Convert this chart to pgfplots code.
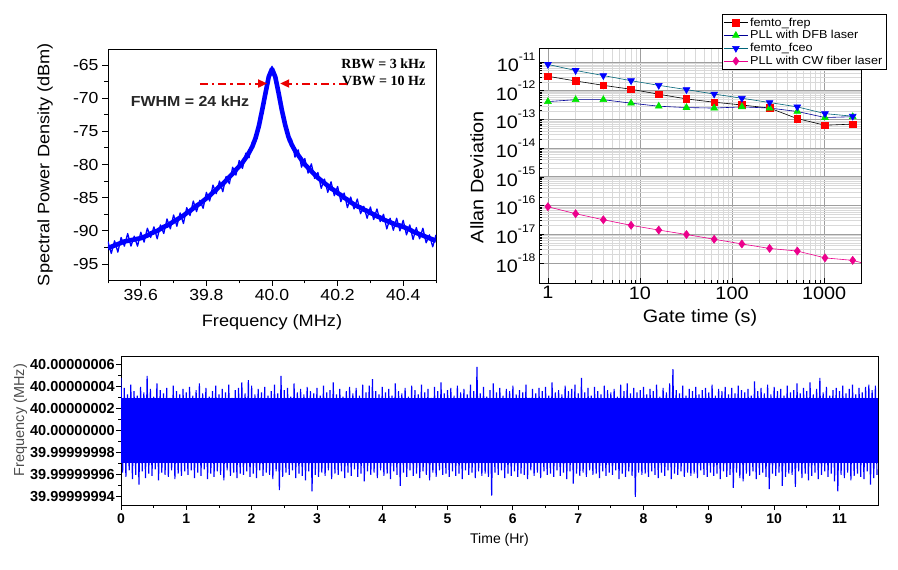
\documentclass[border=0pt]{standalone}
\usepackage{pgfplots}
\usepackage{pgfplotstable}
\pgfplotsset{compat=1.18}
\usepackage{fontspec}
\setmainfont{Liberation Sans}
\newfontfamily\widesans{Liberation Sans}[FakeStretch=1.1]
\newfontfamily\serifw{Liberation Serif}
\usetikzlibrary{arrows.meta}
\definecolor{dfbline}{RGB}{0,0,150}
\definecolor{fceoline}{RGB}{0,100,120}
\definecolor{pblue}{RGB}{0,0,255}
\definecolor{pgreen}{RGB}{0,230,0}
\definecolor{pred}{RGB}{235,0,0}

\pgfplotstableread{
x y yn
39.50 -92.6 -91.6
39.51 -92.4 -93.4
39.52 -92.2 -91.5
39.53 -92.0 -93.2
39.54 -91.8 -91.0
39.55 -91.6 -92.3
39.56 -91.5 -90.4
39.57 -91.4 -92.3
39.58 -91.3 -90.8
39.59 -91.2 -92.3
39.60 -91.1 -90.2
39.61 -90.9 -91.7
39.62 -90.7 -89.6
39.63 -90.4 -91.0
39.64 -90.2 -89.4
39.65 -90.0 -91.2
39.66 -89.7 -89.1
39.67 -89.4 -90.4
39.68 -89.2 -88.2
39.69 -88.9 -89.7
39.70 -88.6 -87.6
39.71 -88.3 -89.3
39.72 -88.0 -87.3
39.73 -87.7 -88.9
39.74 -87.3 -86.5
39.75 -87.0 -87.7
39.76 -86.6 -85.5
39.77 -86.2 -87.1
39.78 -85.9 -85.4
39.79 -85.5 -86.6
39.80 -85.1 -84.2
39.81 -84.7 -85.5
39.82 -84.2 -83.1
39.83 -83.8 -84.4
39.84 -83.3 -82.5
39.85 -82.9 -84.1
39.86 -82.4 -81.8
39.87 -81.9 -82.9
39.88 -81.4 -80.4
39.89 -80.8 -81.6
39.90 -80.3 -79.4
39.91 -79.7 -80.6
39.92 -79.0 -78.3
39.93 -78.2 -79.0
39.94 -77.3 -76.6
39.95 -76.0 -76.6
39.96 -74.2 -73.6
39.97 -71.8 -72.4
39.98 -69.3 -68.8
39.99 -66.8 -67.3
40.00 -65.6 -65.2
40.01 -66.8 -67.3
40.02 -69.2 -68.7
40.03 -71.8 -72.4
40.04 -74.0 -73.4
40.05 -75.8 -76.5
40.06 -77.0 -76.3
40.07 -77.9 -78.9
40.08 -78.6 -77.8
40.09 -79.3 -80.4
40.10 -80.0 -79.1
40.11 -80.5 -81.3
40.12 -81.0 -79.9
40.13 -81.5 -82.1
40.14 -82.0 -81.2
40.15 -82.4 -83.6
40.16 -82.8 -82.2
40.17 -83.2 -84.2
40.18 -83.6 -82.6
40.19 -83.9 -84.7
40.20 -84.3 -83.3
40.21 -84.6 -85.6
40.22 -85.0 -84.3
40.23 -85.3 -86.5
40.24 -85.7 -84.9
40.25 -86.0 -86.7
40.26 -86.3 -85.2
40.27 -86.5 -87.4
40.28 -86.8 -86.3
40.29 -87.0 -88.1
40.30 -87.3 -86.4
40.31 -87.5 -88.3
40.32 -87.8 -86.7
40.33 -88.0 -88.6
40.34 -88.3 -87.5
40.35 -88.5 -89.7
40.36 -88.7 -88.1
40.37 -88.9 -89.9
40.38 -89.1 -88.1
40.39 -89.2 -90.0
40.40 -89.4 -88.4
40.41 -89.6 -90.6
40.42 -89.8 -89.1
40.43 -90.1 -91.3
40.44 -90.3 -89.5
40.45 -90.5 -91.2
40.46 -90.7 -89.6
40.47 -90.9 -91.8
40.48 -91.1 -90.6
40.49 -91.3 -92.4
40.50 -91.5 -90.6
}\spec

\begin{document}
\begin{tikzpicture}
\useasboundingbox (0pt,0pt) rectangle (898pt,570pt);

% ---------------- Panel 1: spectrum ----------------
\begin{axis}[
 at={(108pt,290pt)}, anchor=south west, scale only axis, width=328pt, height=231pt,
 xmin=39.5, xmax=40.5, ymin=-97.4, ymax=-62.6,
 xtick={39.6,39.8,40.0,40.2,40.4}, xticklabels={39.6,39.8,40.0,40.2,40.4},
 minor xtick={39.5,39.7,39.9,40.1,40.3,40.5},
 ytick={-95,-90,-85,-80,-75,-70,-65}, yticklabels={-95,-90,-85,-80,-75,-70,-65},
 minor ytick={-92.5,-87.5,-82.5,-77.5,-72.5,-67.5},
 tick pos=left, tick align=outside, major tick length=6pt, minor tick length=3.5pt,
 tick style={black, line width=0.8pt},
 axis line style={line width=0.9pt},
 ticklabel style={font=\widesans\fontsize{16}{16}\selectfont},
 xlabel={Frequency (MHz)}, ylabel={Spectral Power Density (dBm)},
 label style={font=\widesans\fontsize{16.5}{18}\selectfont},
 xlabel style={at={(axis description cs:0.5,-0.182)}, anchor=center},
 ylabel style={at={(axis description cs:-0.192,0.5)}, anchor=center},
]
\addplot[pblue, line width=4.6pt, line join=round] table[x=x,y=y] {\spec};
\addplot[pblue, line width=1.3pt, line join=round] table[x=x,y=yn] {\spec};
\node[font=\serifw\bfseries\fontsize{14}{14}\selectfont, anchor=east] at (axis cs:40.478,-64.85) {RBW = 3 kHz};
\node[font=\serifw\bfseries\fontsize{14}{14}\selectfont, anchor=east] at (axis cs:40.478,-67.4) {VBW = 10 Hz};
\node[font=\widesans\bfseries\fontsize{14.5}{15}\selectfont, text=black!85] at (axis cs:39.75,-70.4) {FWHM = 24 kHz};
\draw[draw=pred, line width=2pt, dash pattern=on 8pt off 4pt on 2.5pt off 4pt, -{Triangle[length=9pt,width=8pt,fill=pred]}] (axis cs:39.78,-67.8) -- (axis cs:39.985,-67.8);
\draw[draw=pred, line width=2pt, dash pattern=on 8pt off 4pt on 2.5pt off 4pt, -{Triangle[length=9pt,width=8pt,fill=pred]}] (axis cs:40.23,-67.8) -- (axis cs:40.025,-67.8);
\end{axis}

% ---------------- Panel 2: Allan deviation ----------------
\begin{axis}[
 at={(539pt,287pt)}, anchor=south west, scale only axis, width=322pt, height=235pt,
 xmode=log, ymode=log, xmin=0.8, xmax=2520, ymin=2e-19, ymax=3.1e-11,
 xtick={1,10,100,1000}, xticklabels={1,10,100,1000},
 ytick={1e-18,1e-17,1e-16,1e-15,1e-14,1e-13,1e-12,1e-11},
 yticklabels={10\raisebox{0.62em}{\fontsize{11}{11}\selectfont -18},
              10\raisebox{0.62em}{\fontsize{11}{11}\selectfont -17},
              10\raisebox{0.62em}{\fontsize{11}{11}\selectfont -16},
              10\raisebox{0.62em}{\fontsize{11}{11}\selectfont -15},
              10\raisebox{0.62em}{\fontsize{11}{11}\selectfont -14},
              10\raisebox{0.62em}{\fontsize{11}{11}\selectfont -13},
              10\raisebox{0.62em}{\fontsize{11}{11}\selectfont -12},
              10\raisebox{0.62em}{\fontsize{11}{11}\selectfont -11}},
 grid=both, major grid style={gray!75, line width=0.8pt}, minor grid style={gray!30, line width=0.5pt},
 tick pos=left, tick align=inside, major tick length=5pt, minor tick length=3pt,
 tick style={black, line width=0.7pt},
 axis line style={line width=0.9pt},
 ticklabel style={font=\widesans\fontsize{18}{18}\selectfont},
 xlabel={Gate time (s)}, ylabel={Allan Deviation},
 label style={font=\widesans\fontsize{18}{20}\selectfont},
 xlabel style={at={(axis description cs:0.5,-0.149)}, anchor=center},
 ylabel style={at={(axis description cs:-0.193,0.451)}, anchor=center},
 legend style={at={(axis description cs:1.0776,1.1447)}, anchor=north east, draw=black, fill=white,
   font=\widesans\fontsize{11.5}{13}\selectfont, inner sep=1.5pt, row sep=-1pt},
 legend cell align=left,
 legend image code/.code={\draw[mark repeat=2,mark phase=2,#1] plot coordinates {(0cm,0cm)(0.42cm,0cm)(0.84cm,0cm)};},
]
\addplot[black, line width=0.6pt, mark=square*, mark size=3.3pt, mark options={solid, fill=red, draw=red}] coordinates {
 (1,3.2e-12)(2,2.2e-12)(4,1.55e-12)(8,1.13e-12)(16,7.6e-13)(32,5.2e-13)(64,4.0e-13)(128,3.2e-13)(256,2.5e-13)(512,1.07e-13)(1024,6.3e-14)(2048,6.9e-14)};
\addlegendentry{femto\_frep}
\addplot[dfbline, line width=0.6pt, mark=triangle*, mark size=3.9pt, mark options={solid, fill=pgreen, draw=pgreen}] coordinates {
 (1,4.2e-13)(2,4.9e-13)(4,4.9e-13)(8,3.7e-13)(16,2.9e-13)(32,2.6e-13)(64,2.5e-13)(128,2.75e-13)(256,2.5e-13)(512,1.9e-13)(1024,1.17e-13)(2048,1.25e-13)};
\addlegendentry{PLL with DFB laser}
\addplot[fceoline, line width=0.6pt, mark=triangle*, mark size=3.9pt, mark options={solid, rotate=180, fill=blue, draw=blue}] coordinates {
 (1,8.3e-12)(2,5.1e-12)(4,3.4e-12)(8,2.25e-12)(16,1.55e-12)(32,1.1e-12)(64,7.7e-13)(128,5.5e-13)(256,3.9e-13)(512,2.75e-13)(1024,1.6e-13)(2048,1.3e-13)};
\addlegendentry{femto\_fceo}
\addplot[magenta, line width=0.6pt, mark=diamond*, mark size=4pt, mark options={solid, fill=magenta, draw=magenta}] coordinates {
 (1,9.1e-17)(2,5.2e-17)(4,3.2e-17)(8,2.05e-17)(16,1.4e-17)(32,9.8e-18)(64,6.7e-18)(128,4.6e-18)(256,3.2e-18)(512,2.6e-18)(1024,1.5e-18)(2048,1.23e-18)};
\addlegendentry{PLL with CW fiber laser}
\addplot[magenta, line width=0.6pt, forget plot] coordinates {(2048,1.23e-18)(2520,1.03e-18)};
\end{axis}

% ---------------- Panel 3: frequency vs time ----------------
\begin{axis}[
 at={(121pt,65pt)}, anchor=south west, scale only axis, width=757pt, height=149pt,
 xmin=0, xmax=11.59, ymin=-6.75, ymax=6.8,
 xtick={0,1,2,3,4,5,6,7,8,9,10,11}, minor x tick num=1,
 ytick={-6,-4,-2,0,2,4,6},
 yticklabels={39.99999994,39.99999996,39.99999998,40.00000000,40.00000002,40.00000004,40.00000006},
 minor ytick={-5,-3,-1,1,3,5},
 tick pos=left, tick align=outside, major tick length=5pt, minor tick length=3pt,
 tick style={black, line width=0.8pt},
 axis line style={line width=0.9pt},
 /pgf/number format/assume math mode=true,
 xticklabel style={font=\bfseries\fontsize{14}{14}\selectfont},
 yticklabel style={font=\bfseries\fontsize{14.5}{14.5}\selectfont, inner sep=1pt},
 xlabel={Time (Hr)}, ylabel={Frequency (MHz)},
 xlabel style={font=\fontsize{14}{16}\selectfont, at={(axis description cs:0.5,-0.235)}, anchor=center},
 ylabel style={font=\fontsize{14.5}{16}\selectfont, text=black!70, at={(axis description cs:-0.133,0.57)}, anchor=center},
]
\addplot[fill=pblue, draw=none] coordinates {(0,-2.95)(11.59,-2.95)(11.59,2.95)(0,2.95)};
\addplot[pblue, line width=1.15pt, line join=bevel] coordinates {
(0,4.8)(0.025,-3.8)(0.05,3.9)(0.075,-4.2)(0.1,3.3)(0.125,-3.6)(0.15,4.2)(0.175,-4.4)(0.2,3.6)(0.225,-4.0)(0.25,3.2)(0.275,-4.9)(0.3,4.0)(0.325,-3.7)(0.35,3.5)(0.375,-4.3)(0.4,5.0)(0.425,-3.9)(0.45,3.8)(0.475,-4.1)(0.5,3.1)(0.525,-3.5)(0.55,4.3)(0.575,-4.5)(0.6,3.7)(0.625,-3.8)(0.65,3.4)(0.675,-4.0)(0.7,3.9)(0.725,-4.2)(0.75,3.0)(0.775,-3.6)(0.8,4.1)(0.825,-4.4)(0.85,3.6)(0.875,-3.9)(0.9,3.3)(0.925,-4.1)(0.95,3.8)(0.975,-3.7)
(1,3.5)(1.025,-4.0)(1.05,4.0)(1.075,-3.6)(1.1,3.2)(1.125,-4.3)(1.15,3.7)(1.175,-3.8)(1.2,4.3)(1.225,-4.1)(1.25,3.4)(1.275,-3.5)(1.3,3.9)(1.325,-4.4)(1.35,3.1)(1.375,-3.9)(1.4,3.6)(1.425,-4.2)(1.45,4.1)(1.475,-3.7)(1.5,3.3)(1.525,-4.0)(1.55,3.8)(1.575,-4.5)(1.6,3.5)(1.625,-3.6)(1.65,4.2)(1.675,-4.1)(1.7,3.0)(1.725,-3.8)(1.75,3.7)(1.775,-4.3)(1.8,3.9)(1.825,-3.9)(1.85,4.4)(1.875,-4.0)(1.9,3.4)(1.925,-3.7)(1.95,4.6)(1.975,-4.2)
(2,4.1)(2.025,-3.9)(2.05,3.3)(2.075,-4.3)(2.1,3.8)(2.125,-3.6)(2.15,3.5)(2.175,-4.1)(2.2,4.0)(2.225,-3.8)(2.25,3.2)(2.275,-4.0)(2.3,3.6)(2.325,-4.4)(2.35,4.2)(2.375,-3.7)(2.4,3.4)(2.425,-5.4)(2.45,5.0)(2.475,-4.2)(2.5,3.7)(2.525,-3.8)(2.55,3.9)(2.575,-4.0)(2.6,3.1)(2.625,-3.6)(2.65,4.3)(2.675,-4.3)(2.7,3.5)(2.725,-3.9)(2.75,3.8)(2.775,-4.1)(2.8,3.3)(2.825,-4.5)(2.85,4.0)(2.875,-3.7)(2.9,3.6)(2.925,-5.5)(2.95,3.4)(2.975,-4.0)
(3,3.9)(3.025,-4.2)(3.05,3.2)(3.075,-3.8)(3.1,4.1)(3.125,-4.1)(3.15,3.5)(3.175,-3.6)(3.2,3.7)(3.225,-4.4)(3.25,4.4)(3.275,-3.9)(3.3,3.3)(3.325,-4.0)(3.35,3.8)(3.375,-3.7)(3.4,3.1)(3.425,-4.3)(3.45,3.6)(3.475,-3.8)(3.5,4.0)(3.525,-4.1)(3.55,3.4)(3.575,-3.5)(3.6,3.9)(3.625,-4.2)(3.65,3.2)(3.675,-3.9)(3.7,4.2)(3.725,-4.6)(3.75,3.5)(3.775,-3.7)(3.8,4.1)(3.825,-4.0)(3.85,4.7)(3.875,-3.8)(3.9,3.6)(3.925,-4.3)(3.95,3.3)(3.975,-3.6)
(4,4.0)(4.025,-4.1)(4.05,3.5)(4.075,-3.9)(4.1,3.8)(4.125,-4.4)(4.15,3.2)(4.175,-3.7)(4.2,4.3)(4.225,-4.0)(4.25,3.6)(4.275,-5.0)(4.3,3.4)(4.325,-3.8)(4.35,3.9)(4.375,-4.2)(4.4,3.1)(4.425,-3.6)(4.45,4.1)(4.475,-4.1)(4.5,3.7)(4.525,-3.9)(4.55,3.3)(4.575,-4.3)(4.6,4.2)(4.625,-3.7)(4.65,3.5)(4.675,-4.0)(4.7,3.8)(4.725,-4.5)(4.75,3.0)(4.775,-3.8)(4.8,4.0)(4.825,-4.2)(4.85,3.6)(4.875,-3.6)(4.9,4.4)(4.925,-4.0)(4.95,3.4)(4.975,-3.9)
(5,3.7)(5.025,-4.2)(5.05,3.9)(5.075,-3.7)(5.1,3.2)(5.125,-4.1)(5.15,4.1)(5.175,-3.9)(5.2,3.5)(5.225,-4.4)(5.25,3.8)(5.275,-3.6)(5.3,3.3)(5.325,-4.0)(5.35,4.2)(5.375,-3.8)(5.4,3.6)(5.425,-4.3)(5.45,5.8)(5.475,-3.7)(5.5,3.4)(5.525,-4.1)(5.55,4.0)(5.575,-3.9)(5.6,3.1)(5.625,-4.2)(5.65,3.7)(5.675,-5.9)(5.7,4.3)(5.725,-3.8)(5.75,3.5)(5.775,-4.0)(5.8,3.9)(5.825,-3.6)(5.85,3.2)(5.875,-4.3)(5.9,3.8)(5.925,-3.9)(5.95,3.6)(5.975,-4.1)
(6,4.1)(6.025,-3.7)(6.05,3.3)(6.075,-4.2)(6.1,3.7)(6.125,-3.9)(6.15,3.5)(6.175,-4.0)(6.2,4.2)(6.225,-4.4)(6.25,3.0)(6.275,-3.6)(6.3,3.8)(6.325,-4.1)(6.35,3.4)(6.375,-3.8)(6.4,3.9)(6.425,-4.3)(6.45,3.6)(6.475,-3.7)(6.5,4.0)(6.525,-4.0)(6.55,3.2)(6.575,-3.9)(6.6,4.4)(6.625,-4.2)(6.65,3.5)(6.675,-3.6)(6.7,3.7)(6.725,-4.1)(6.75,3.3)(6.775,-3.8)(6.8,4.1)(6.825,-4.4)(6.85,3.6)(6.875,-3.7)(6.9,3.8)(6.925,-4.8)(6.95,4.2)(6.975,-3.9)
(7,3.4)(7.025,-4.1)(7.05,4.8)(7.075,-3.8)(7.1,3.5)(7.125,-4.2)(7.15,3.9)(7.175,-3.6)(7.2,3.2)(7.225,-4.0)(7.25,4.0)(7.275,-3.9)(7.3,3.6)(7.325,-4.3)(7.35,3.3)(7.375,-3.7)(7.4,4.1)(7.425,-4.1)(7.45,3.7)(7.475,-3.8)(7.5,3.5)(7.525,-4.0)(7.55,3.8)(7.575,-3.6)(7.6,3.1)(7.625,-4.4)(7.65,4.2)(7.675,-3.9)(7.7,3.6)(7.725,-4.2)(7.75,4.3)(7.775,-3.7)(7.8,3.4)(7.825,-4.1)(7.85,3.9)(7.875,-6.0)(7.9,3.5)(7.925,-3.8)(7.95,3.7)(7.975,-4.0)
(8,4.0)(8.025,-3.9)(8.05,3.3)(8.075,-4.2)(8.1,3.8)(8.125,-3.7)(8.15,3.6)(8.175,-4.0)(8.2,4.2)(8.225,-4.3)(8.25,3.1)(8.275,-3.8)(8.3,3.9)(8.325,-4.1)(8.35,3.5)(8.375,-3.6)(8.4,4.3)(8.425,-4.4)(8.45,5.6)(8.475,-3.9)(8.5,3.7)(8.525,-4.0)(8.55,3.4)(8.575,-3.7)(8.6,4.1)(8.625,-4.2)(8.65,3.2)(8.675,-3.8)(8.7,3.8)(8.725,-4.1)(8.75,3.6)(8.775,-3.9)(8.8,4.0)(8.825,-4.3)(8.85,3.3)(8.875,-3.6)(8.9,3.7)(8.925,-4.0)(8.95,3.9)(8.975,-4.2)
(9,3.5)(9.025,-3.8)(9.05,4.2)(9.075,-4.1)(9.1,3.2)(9.125,-3.9)(9.15,3.8)(9.175,-4.4)(9.2,3.6)(9.225,-3.7)(9.25,4.0)(9.275,-4.2)(9.3,3.3)(9.325,-4.0)(9.35,3.9)(9.375,-5.2)(9.4,3.4)(9.425,-3.8)(9.45,4.1)(9.475,-4.3)(9.5,3.7)(9.525,-4.6)(9.55,3.5)(9.575,-3.9)(9.6,3.8)(9.625,-4.1)(9.65,3.2)(9.675,-3.7)(9.7,4.5)(9.725,-4.4)(9.75,3.6)(9.775,-4.0)(9.8,3.9)(9.825,-3.8)(9.85,3.4)(9.875,-4.2)(9.9,4.2)(9.925,-5.3)(9.95,3.3)(9.975,-3.9)
(10,4.0)(10.025,-4.1)(10.05,3.6)(10.075,-3.8)(10.1,3.8)(10.125,-5.0)(10.15,3.2)(10.175,-4.2)(10.2,4.1)(10.225,-3.9)(10.25,3.5)(10.275,-4.0)(10.3,3.7)(10.325,-5.1)(10.35,4.3)(10.375,-3.7)(10.4,3.4)(10.425,-4.3)(10.45,3.9)(10.475,-3.9)(10.5,3.6)(10.525,-4.5)(10.55,4.4)(10.575,-4.1)(10.6,3.3)(10.625,-3.8)(10.65,3.8)(10.675,-4.4)(10.7,4.8)(10.725,-4.0)(10.75,3.5)(10.775,-3.7)(10.8,4.0)(10.825,-4.2)(10.85,3.2)(10.875,-3.9)(10.9,3.7)(10.925,-4.6)(10.95,3.9)(10.975,-5.5)
(11,3.6)(11.025,-4.0)(11.05,4.1)(11.075,-4.3)(11.1,3.4)(11.125,-3.8)(11.15,3.8)(11.175,-4.5)(11.2,4.2)(11.225,-4.1)(11.25,3.3)(11.275,-3.9)(11.3,3.9)(11.325,-4.2)(11.35,3.5)(11.375,-4.4)(11.4,4.0)(11.425,-3.7)(11.45,4.2)(11.475,-4.9)(11.5,3.7)(11.525,-4.3)(11.55,4.1)(11.575,-4.0)};
\end{axis}
\end{tikzpicture}
\end{document}
